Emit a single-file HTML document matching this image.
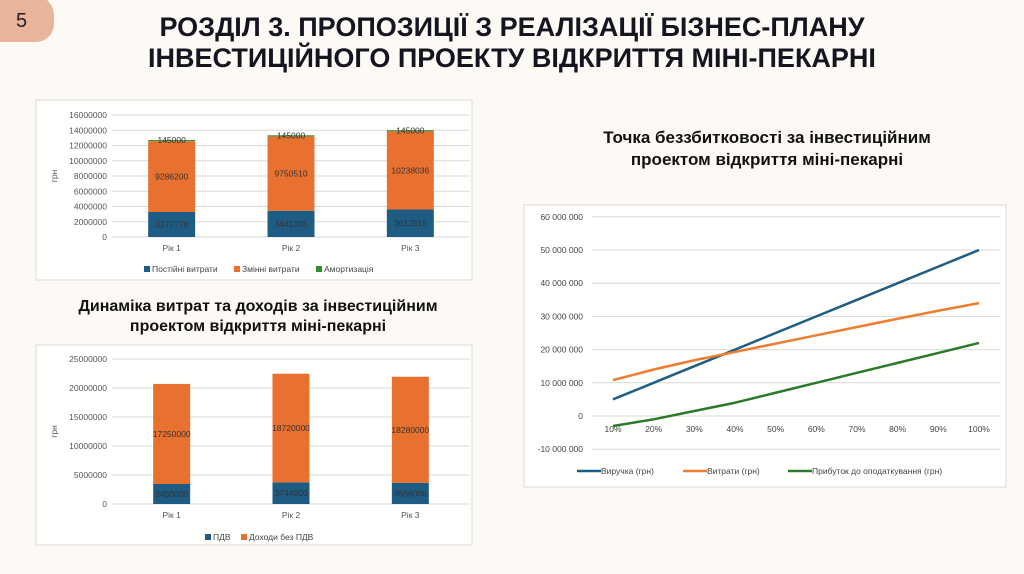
<!DOCTYPE html>
<html><head><meta charset="utf-8">
<style>
body{margin:0;width:1024px;height:574px;overflow:hidden;background:#fdfaf6;font-family:"Liberation Sans",sans-serif;position:relative}
.t{position:absolute;text-align:center;font-weight:bold;color:#111}
svg text{font-family:"Liberation Sans",sans-serif}
</style></head><body>
<div style="position:absolute;left:-6px;top:-6px;width:60px;height:48px;background:#e8b59a;border-radius:0 22px 18px 0"></div>
<div style="position:absolute;left:16px;top:10px;font-size:20px;color:#222">5</div>
<div class="t" style="left:0;width:1024px;top:12px;font-size:27px;line-height:31px;color:#151520">РОЗДІЛ 3. ПРОПОЗИЦІЇ З РЕАЛІЗАЦІЇ БІЗНЕС-ПЛАНУ<br>ІНВЕСТИЦІЙНОГО ПРОЕКТУ ВІДКРИТТЯ МІНІ-ПЕКАРНІ</div>
<div class="t" style="left:530px;width:474px;top:127px;font-size:17px;line-height:22px">Точка беззбитковості за інвестиційним<br>проектом відкриття міні-пекарні</div>
<div class="t" style="left:20px;width:476px;top:297px;font-size:16px;line-height:20px">Динаміка витрат та доходів за інвестиційним<br>проектом відкриття міні-пекарні</div>
<svg id="s" width="1024" height="574" style="position:absolute;left:0;top:0"></svg>
<script>
const years=["Рік 1","Рік 2","Рік 3"];
const fixedCosts=[3277778,3441055,3612515];
const varCosts=[9286200,9750510,10238036];
const amort=[145000,145000,145000];
const c1Ticks=[0,2000000,4000000,6000000,8000000,10000000,12000000,14000000,16000000];
const vat=[3450000,3744000,3656000];
const incomeNoVat=[17250000,18720000,18280000];
const c2Ticks=[0,5000000,10000000,15000000,20000000,25000000];
const pct=["10%","20%","30%","40%","50%","60%","70%","80%","90%","100%"];
const revenue=[5000000,10000000,15000000,20000000,25000000,30000000,35000000,40000000,45000000,50000000];
const costs=[10800000,14000000,16800000,19300000,21800000,24300000,26800000,29300000,31700000,34000000];
const profit=[-3000000,-1000000,1500000,4000000,7000000,10000000,13000000,16000000,19000000,22000000];
const c3Ticks=[-10000000,0,10000000,20000000,30000000,40000000,50000000,60000000];
const c3Labels=["-10 000 000","0","10 000 000","20 000 000","30 000 000","40 000 000","50 000 000","60 000 000"];
const S=document.getElementById('s'),NS="http://www.w3.org/2000/svg";
function mk(t,a,txt){const e=document.createElementNS(NS,t);for(const k in a)e.setAttribute(k,a[k]);if(txt!==undefined)e.textContent=txt;S.appendChild(e);return e;}
function box(x,y,w,h,n){const e=mk('rect',{x:x,y:y,width:w,height:h,fill:'#fff','fill-opacity':0.85,stroke:'#d9d9d9'});

}
box(36,100,436,180,'cost-chart-frame');box(36,345,436,200,'income-chart-frame');box(524,205,482,282,'breakeven-chart-frame');
function bars(cfg){
 const y=v=>cfg.y0-(v-0)/cfg.max*(cfg.y0-cfg.yTop);
 cfg.ticks.forEach(t=>{const g=mk('line',{x1:cfg.x0,x2:cfg.x1,y1:y(t),y2:y(t),stroke:'#d9d9d9'});
 
 
 const l=mk('text',{x:cfg.x0-5,y:y(t)+3,'text-anchor':'end','font-size':8.5,fill:'#555'},t);
 
 });
 const ax=mk('text',{x:0,y:0,'font-size':8.5,fill:'#555',transform:`translate(${cfg.x0-55},${(cfg.y0+cfg.yTop)/2}) rotate(-90)`,'text-anchor':'middle'},'грн');
 
 
 const bw=(cfg.x1-cfg.x0)/3;
 years.forEach((yr,i)=>{const cx=cfg.x0+bw*(i+0.5);let acc=0;
  cfg.series.forEach((s,j)=>{const v=s.data[i];const r=mk('rect',{x:cx-cfg.w/2,y:y(acc+v),width:cfg.w,height:y(acc)-y(acc+v),fill:s.color});
   
   
   const ly=j==cfg.series.length-1&&s.small?y(acc+v)+3:(y(acc)+y(acc+v))/2+3;
   const tl=mk('text',{x:cx,y:ly,'text-anchor':'middle','font-size':8.5,fill:'#333'},v);
   
   
   acc+=v;});
  const xl=mk('text',{x:cx,y:cfg.y0+14,'text-anchor':'middle','font-size':8.5,fill:'#555'},yr);
  
  });
 let lx=cfg.legX;cfg.series.forEach(s=>{const r=mk('rect',{x:lx,y:cfg.legY-6,width:6,height:6,fill:s.color});
  
  
  const t=mk('text',{x:lx+8,y:cfg.legY,'font-size':8.5,fill:'#444'},s.name);
  
  
  lx+=s.lw;});
}
bars({x0:112,x1:470,y0:237,yTop:115,max:16000000,ticks:c1Ticks,w:47,legX:144,legY:272,series:[
 {key:'fixed',name:'Постійні витрати',data:fixedCosts,color:'#1f5c83',lw:90},
 {key:'variable',name:'Змінні витрати',data:varCosts,color:'#e8712f',lw:82},
 {key:'amort',name:'Амортизація',data:amort,color:'#2e8b2e',lw:80,small:true}]});
bars({x0:112,x1:470,y0:504,yTop:359,max:25000000,ticks:c2Ticks,w:37,legX:205,legY:540,series:[
 {key:'vat',name:'ПДВ',data:vat,color:'#1f5c83',lw:36},
 {key:'income',name:'Доходи без ПДВ',data:incomeNoVat,color:'#e8712f',lw:90}]});
// line chart
const lx0=592,lx1=1000,xA=613,xB=979,ly0=416,per=3.32e-6;
const Y=v=>ly0-v*per, X=i=>xA+(xB-xA)*i/(pct.length-1);
c3Ticks.forEach((t,k)=>{const g=mk('line',{x1:lx0,x2:lx1,y1:Y(t),y2:Y(t),stroke:'#d9d9d9'});
 
 
 const l=mk('text',{x:583,y:Y(t)+3,'text-anchor':'end','font-size':8.5,fill:'#444'},c3Labels[k]);
 
 });
pct.forEach((p,i)=>{const t=mk('text',{x:X(i),y:Y(0)+16,'text-anchor':'middle','font-size':8.5,fill:'#444'},p);
 
 });
const ser=[{k:'revenue',n:'Виручка (грн)',d:revenue,c:'#1f5c83',lx:577},{k:'costs',n:'Витрати (грн)',d:costs,c:'#ed7d31',lx:683},{k:'profit',n:'Прибуток до оподаткування (грн)',d:profit,c:'#2a7a2a',lx:788}];
ser.forEach(s=>{const p=mk('polyline',{points:s.d.map((v,i)=>X(i)+','+Y(v)).join(' '),fill:'none',stroke:s.c,'stroke-width':2.5,'stroke-linejoin':'round'});
 
 
 const l=mk('line',{x1:s.lx,x2:s.lx+24,y1:471,y2:471,stroke:s.c,'stroke-width':2.5});
 
 
 const t=mk('text',{x:s.lx+24,y:474,'font-size':8.5,fill:'#444'},s.n);
 
 });
</script>
</body></html>
